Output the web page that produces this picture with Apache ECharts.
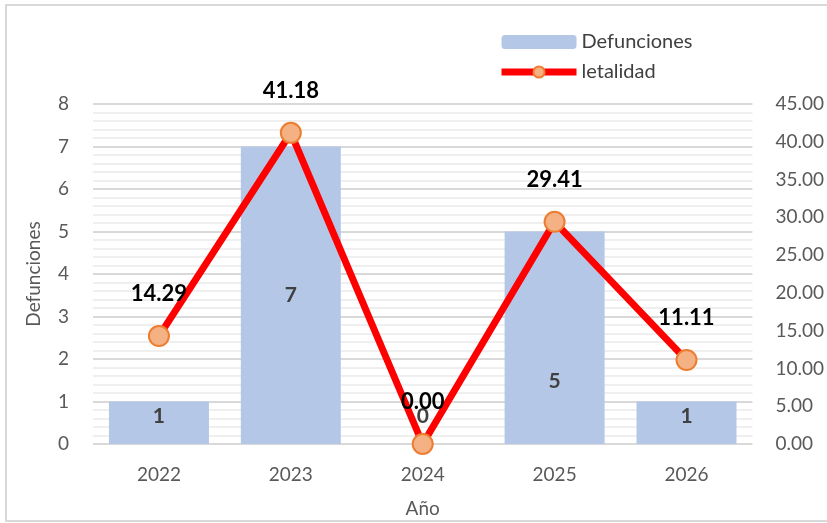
<!DOCTYPE html>
<html>
<head>
<meta charset="utf-8">
<script src="https://cdn.jsdelivr.net/npm/echarts@6/dist/echarts.min.js"></script>
<style>
  html, body { margin: 0; padding: 0; background: #fff; }
  #chart { width: 827px; height: 523px; }
</style>
</head>
<body>
<div id="chart"></div>
<script>
// datos
var anios = ['2022', '2023', '2024', '2025', '2026'];
var defunciones = [1, 7, 0, 5, 1];
var letalidad = [14.29, 41.18, 0.00, 29.41, 11.11];

// desplazamiento de etiquetas de barras (como en la hoja original)
var offBarras = [-7, 0, -28, 43, -7];

var fuente = 'Lato, "Noto Sans", sans-serif';

var chart = echarts.init(document.getElementById('chart'));

var option = {
    textStyle: { fontFamily: fuente },
    graphic: [{
        type: 'rect',
        shape: { x: 6, y: 5, width: 840, height: 516 },
        style: { fill: 'none', stroke: '#d9d9d9', lineWidth: 2 },
        silent: true
    }],
    legend: {
        orient: 'vertical',
        left: 493,
        top: 27,
        itemWidth: 75,
        itemHeight: 14,
        itemGap: 10,
        lineStyle: { width: 7 },
        textStyle: { fontSize: 20, color: '#404040', fontFamily: fuente },
        data: ['Defunciones', 'letalidad']
    },
    grid: { left: 93, right: 70, top: 104, bottom: 71 },
    xAxis: {
        type: 'category',
        data: anios,
        name: 'Año',
        nameLocation: 'middle',
        nameGap: 55,
        nameTextStyle: { fontSize: 19, color: '#595959' },
        axisLine: { show: false },
        axisTick: { show: false },
        axisLabel: { fontSize: 19, color: '#595959', margin: 21 }
    },
    yAxis: [{
        type: 'value',
        min: 0, max: 8, interval: 1,
        name: 'Defunciones',
        nameLocation: 'middle',
        nameGap: 50,
        nameTextStyle: { fontSize: 19, color: '#595959' },
        axisLabel: { fontSize: 19, color: '#595959', margin: 24 },
        splitLine: { lineStyle: { color: '#d9d9d9', width: 2 } },
        minorTick: { show: false, splitNumber: 5 },
        minorSplitLine: { show: true, lineStyle: { color: '#efefef', width: 2 } }
    }, {
        type: 'value',
        min: 0, max: 45, interval: 5,
        axisLabel: {
            fontSize: 19, color: '#595959', margin: 23,
            formatter: function (v) { return v.toFixed(2); }
        },
        splitLine: { show: false }
    }],
    series: [{
        name: 'Defunciones',
        type: 'bar',
        barWidth: 100,
        itemStyle: { color: '#b4c7e7' },
        data: defunciones.map(function (v, i) {
            return { value: v, label: { offset: [0, offBarras[i]] } };
        }),
        label: {
            show: true,
            position: 'inside',
            fontSize: 21,
            fontWeight: 'bold',
            color: '#404040'
        }
    }, {
        name: 'letalidad',
        type: 'line',
        yAxisIndex: 1,
        symbol: 'circle',
        symbolSize: 20,
        lineStyle: { color: '#ff0000', width: 7 },
        itemStyle: { color: '#f4b183', borderColor: '#ed7d31', borderWidth: 2 },
        data: letalidad,
        label: {
            show: true,
            position: 'top',
            distance: 20,
            fontSize: 22,
            fontWeight: 'bold',
            color: '#000',
            formatter: function (p) { return p.value.toFixed(2); }
        },
        z: 3
    }]
};

chart.setOption(option);
</script>
</body>
</html>
